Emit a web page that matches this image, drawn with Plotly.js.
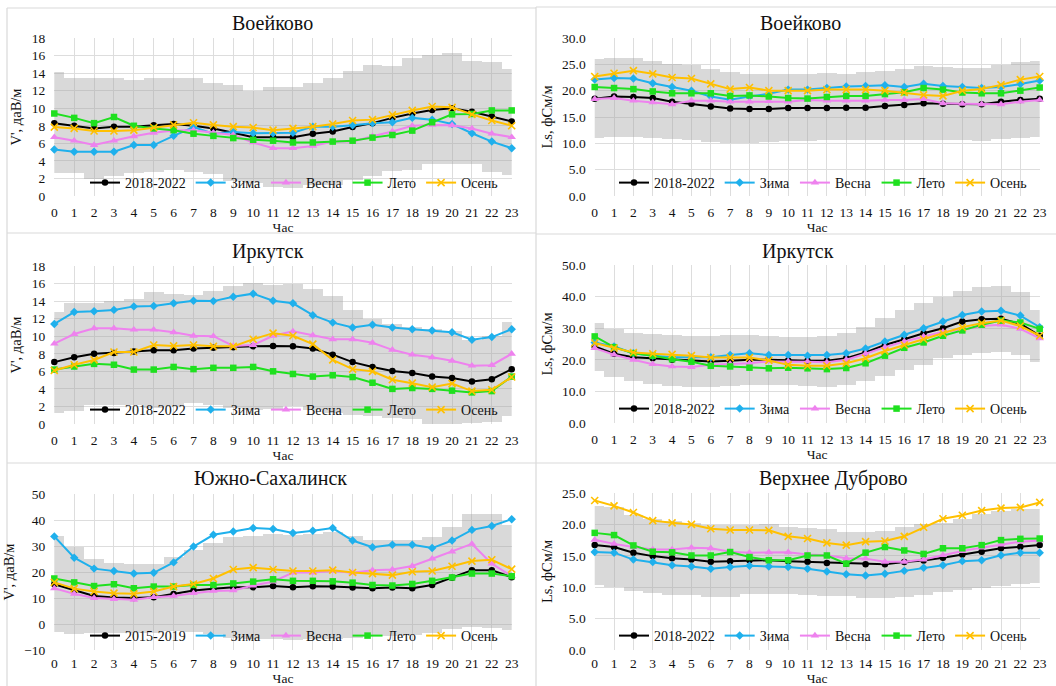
<!DOCTYPE html>
<html>
<head>
<meta charset="utf-8">
<script src="https://cdn.plot.ly/plotly-3.0.1.min.js"></script>
<style>
html,body{margin:0;padding:0;background:#fff;}
#chart{width:1056px;height:686px;}
</style>
</head>
<body>
<div id="chart"></div>
<script>
// ---------- DATA ----------
const hours = [0,1,2,3,4,5,6,7,8,9,10,11,12,13,14,15,16,17,18,19,20,21,22,23];
const namesA = ["2018-2022","Зима","Весна","Лето","Осень"];
const namesB = ["2015-2019","Зима","Весна","Лето","Осень"];
const panelTitles = ["Воейково","Воейково","Иркутск","Иркутск","Южно-Сахалинск","Верхнее Дуброво"];
const yTitleV = "V', даВ/м";
const yTitleL = "Ls, фСм/м";
const xTitle = "Час";

// Воейково, V'
const voV_low  = [2.6,2.6,1.9,2.3,2.6,2.7,3.0,2.7,2.5,1.7,1.5,1.0,0.9,1.3,1.3,1.8,2.3,2.8,3.0,3.6,3.7,3.65,2.7,2.4];
const voV_high = [14.1,13.4,13.5,13.5,13.2,13.4,13.4,13.5,12.9,12.7,12.0,12.4,12.4,12.9,13.4,14.2,14.9,14.8,15.7,16.1,16.3,15.4,15.3,14.5];
const voV_all  = [8.3,8.0,7.7,7.9,7.9,8.05,8.2,8.0,7.7,7.2,6.7,6.7,6.7,7.1,7.35,7.85,8.3,8.9,9.4,9.8,10.0,9.6,9.05,8.5];
const voV_win  = [5.3,5.05,5.05,5.05,5.8,5.8,6.85,7.85,7.1,7.3,7.15,7.15,7.2,7.9,7.9,8.05,8.3,8.4,8.9,8.7,8.2,7.15,6.2,5.45];
const voV_spr  = [6.7,6.3,5.8,6.3,6.8,7.2,7.45,7.5,7.2,6.95,6.1,5.45,5.45,5.7,6.2,6.2,6.8,7.35,8.0,8.1,8.05,7.7,7.1,6.7];
const voV_sum  = [9.4,8.9,8.3,9.0,8.0,7.7,7.5,7.1,6.85,6.6,6.4,6.3,6.1,6.1,6.2,6.3,6.65,6.95,7.45,8.4,9.3,9.35,9.75,9.75];
const voV_aut  = [7.85,7.7,7.4,7.4,7.5,7.8,8.1,8.35,8.1,7.9,7.8,7.5,7.7,7.9,8.2,8.6,8.7,9.25,9.75,10.2,10.1,9.3,8.6,8.0];

// Воейково, Ls
const voL_low  = [11.1,11.2,11.2,11.1,10.8,10.65,10.3,10.1,10.1,10.3,10.4,10.5,10.65,10.6,10.65,10.65,10.65,10.65,10.65,10.65,10.5,10.8,11.1,11.2];
const voL_high = [26.0,26.2,26.2,25.7,25.0,24.8,24.1,23.5,23.2,23.2,23.2,23.2,23.3,23.2,23.5,23.8,24.2,24.6,24.4,24.3,24.3,24.9,25.4,25.7];
const voL_all  = [18.45,18.9,18.8,18.6,17.9,17.5,17.0,16.6,16.5,16.5,16.7,16.7,16.7,16.75,16.75,17.1,17.3,17.6,17.5,17.4,17.4,17.9,18.25,18.45];
const voL_win  = [22.1,22.4,22.3,21.4,20.7,20.0,18.9,18.3,18.9,19.4,20.2,20.2,20.5,20.8,20.9,21.05,20.7,21.3,20.9,20.7,20.5,20.7,21.25,21.95];
const voL_spr  = [18.4,18.6,18.1,17.8,17.4,18.1,18.1,17.9,17.9,18.0,17.9,18.25,18.1,18.1,18.1,18.25,18.25,18.4,17.6,17.5,17.4,17.4,17.9,18.25];
const voL_sum  = [20.7,20.5,20.3,19.85,19.5,19.5,19.5,19.0,19.1,18.9,18.6,18.5,18.8,19.0,19.0,19.35,19.7,20.5,20.2,19.65,19.5,19.5,20.0,20.6];
const voL_aut  = [22.7,23.3,23.8,23.2,22.5,22.3,21.3,20.3,20.6,20.0,20.0,20.0,20.2,20.2,20.2,20.0,19.65,19.2,19.0,20.0,20.3,21.1,22.1,22.7];

// Иркутск, V'
const irV_low  = [1.3,1.5,2.2,2.2,2.2,1.8,2.0,2.4,2.2,1.8,1.6,1.75,2.1,1.6,1.3,1.05,0.9,0.7,0.55,-0.1,0.0,0.1,0.2,0.9];
const irV_high = [12.8,13.8,13.8,14.05,14.25,15.0,14.8,14.75,15.15,15.7,16.1,15.8,15.95,15.35,14.6,13.0,11.95,11.4,11.1,10.85,10.55,9.6,10.0,11.6];
const irV_all  = [7.05,7.6,8.0,8.1,8.25,8.4,8.4,8.6,8.7,8.75,8.85,8.9,8.85,8.6,7.9,7.05,6.5,6.05,5.8,5.4,5.25,4.85,5.1,6.25];
const irV_win  = [11.4,12.75,12.85,13.0,13.4,13.45,13.75,14.05,14.0,14.5,14.85,14.05,13.75,12.4,11.55,11.0,11.3,11.0,10.8,10.65,10.45,9.6,9.9,10.8];
const irV_spr  = [9.15,10.25,10.9,10.9,10.75,10.75,10.45,10.05,10.0,8.9,9.0,10.05,10.55,10.1,9.65,9.65,9.25,8.45,7.9,7.6,7.2,6.65,6.7,8.0];
const irV_sum  = [6.2,6.55,6.85,6.75,6.2,6.2,6.5,6.25,6.4,6.4,6.5,6.0,5.7,5.4,5.55,5.35,4.7,4.0,4.1,4.0,3.8,3.6,3.75,5.4];
const irV_aut  = [6.1,6.75,7.3,8.2,8.2,9.0,8.9,9.0,8.85,8.85,9.65,10.35,10.05,9.1,7.3,6.25,6.0,5.05,4.65,4.2,4.6,3.75,3.9,5.35];

// Иркутск, Ls
const irL_low  = [16.6,14.7,13.2,12.3,11.8,11.4,11.4,11.8,12.1,12.1,12.1,11.8,11.4,12.1,13.2,14.9,16.8,18.4,20.5,21.6,22.3,22.6,21.6,19.2];
const irL_high = [31.6,29.7,28.4,28.2,27.9,27.6,27.6,27.9,27.9,27.4,27.2,27.2,27.4,28.6,30.5,33.2,35.8,38.1,39.8,41.9,42.9,43.2,41.3,35.8];
const irL_all  = [24.2,21.9,20.8,20.5,20.0,19.8,19.5,19.7,20.0,20.0,19.8,19.7,19.7,20.5,22.3,24.7,26.5,28.4,30.0,32.1,32.8,33.0,31.4,27.6];
const irL_win  = [25.5,24.2,22.1,21.3,20.8,20.7,20.8,21.5,22.1,21.5,21.5,21.3,21.5,22.1,23.6,25.8,27.9,30.0,32.1,34.2,35.3,35.5,34.0,30.3];
const irL_spr  = [23.7,21.6,20.0,18.6,17.9,17.7,18.4,18.7,18.9,19.5,19.5,19.4,19.2,20.0,21.9,24.0,25.8,27.4,28.9,29.5,30.7,31.1,29.8,26.8];
const irL_sum  = [27.4,24.0,22.1,21.3,20.2,19.4,18.1,17.9,17.5,17.3,17.5,17.3,17.05,17.4,18.9,21.3,23.8,25.5,27.6,29.3,31.1,32.4,31.8,29.8];
const irL_aut  = [25.3,23.7,22.3,21.9,21.7,21.3,20.7,20.7,20.7,19.8,18.4,18.1,18.1,18.9,20.5,22.8,24.7,26.5,28.4,30.3,31.6,32.4,30.7,27.6];

// Южно-Сахалинск, V'
const ysV_low  = [-2.9,-3.9,-3.3,-3.3,-3.5,-3.5,-2.7,-3.0,-4.0,-5.2,-5.6,-5.8,-6.1,-5.8,-5.8,-5.2,-4.6,-4.6,-4.3,-3.3,-2.0,-1.3,-1.4,-2.3];
const ysV_high = [33.7,29.5,25.1,23.5,23.0,23.2,25.7,28.5,31.1,33.3,33.8,34.8,34.3,34.6,35.2,33.7,32.3,32.3,32.3,33.3,37.5,42.2,42.2,38.0];
const ysV_all  = [15.3,12.9,10.8,10.2,10.0,10.3,11.5,12.9,13.6,14.1,14.1,14.6,14.1,14.5,14.4,14.0,13.75,14.0,13.75,15.0,17.8,20.7,20.7,18.0];
const ysV_win  = [33.7,25.5,21.3,20.4,19.4,19.7,23.7,29.8,34.3,35.6,36.9,36.5,35.0,35.9,36.9,32.1,29.5,30.5,30.5,29.2,32.1,36.2,37.7,40.3];
const ysV_spr  = [13.75,11.6,10.0,9.6,9.3,10.3,10.8,11.85,12.7,12.9,14.8,16.3,19.8,19.8,20.4,19.7,20.7,20.95,22.3,25.1,27.8,30.8,23.2,18.4];
const ysV_sum  = [17.5,16.0,14.6,15.3,13.75,14.4,14.4,15.0,15.0,15.6,16.3,17.2,16.6,16.6,16.4,15.9,15.0,14.8,15.4,16.6,17.9,19.4,19.4,18.4];
const ysV_aut  = [16.0,13.6,12.5,11.85,11.6,12.5,14.4,15.4,17.5,20.95,21.7,20.95,20.4,20.4,20.7,19.8,19.4,18.8,20.1,20.4,22.2,24.2,24.7,21.1];

// Верхнее Дуброво, Ls
const vdL_low  = [10.3,10.0,9.4,9.15,8.8,8.8,8.5,8.5,8.9,8.9,8.9,8.8,8.6,8.6,8.35,8.25,8.45,8.8,9.2,9.5,9.9,10.25,10.5,10.6];
const vdL_high = [23.0,22.7,21.5,20.9,20.5,20.2,19.9,19.9,19.9,20.0,19.6,19.45,19.2,18.8,18.8,18.9,19.55,20.0,20.2,20.9,21.7,22.2,22.5,22.5];
const vdL_all  = [16.7,16.4,15.5,14.95,14.6,14.4,14.05,14.15,14.3,14.3,14.15,14.05,13.85,13.75,13.65,13.65,14.0,14.25,14.7,15.2,15.65,16.2,16.45,16.7];
const vdL_win  = [15.6,15.5,14.4,14.0,13.5,13.3,12.95,13.2,13.4,13.3,13.2,12.95,12.5,12.05,11.85,12.15,12.6,13.1,13.5,14.15,14.3,15.1,15.5,15.5];
const vdL_spr  = [17.55,16.9,16.4,16.0,16.0,16.3,16.2,15.65,15.5,15.55,15.55,15.2,15.1,14.6,14.55,14.05,14.05,14.4,15.1,15.75,16.3,16.8,17.25,17.45];
const vdL_sum  = [18.65,18.3,16.65,15.65,15.55,15.05,15.05,15.6,14.8,14.3,14.3,15.05,15.05,13.75,15.5,16.4,15.85,15.3,16.2,16.2,16.7,17.5,17.7,17.75];
const vdL_aut  = [23.8,22.95,21.9,20.6,20.25,20.0,19.3,19.1,19.1,19.05,18.1,17.75,17.05,16.7,17.25,17.35,18.1,19.55,20.9,21.45,22.2,22.6,22.7,23.5];

// ---------- STYLE / LAYOUT ----------
const W = 1056, H = 686;
const FONT = "Liberation Serif";
const TXT = '#111111';
const seriesStyle = [
  {color:'#000000', symbol:'circle', size:6.5},
  {color:'#1fb0ec', symbol:'diamond', size:6.5},
  {color:'#ee82ee', symbol:'triangle-up', size:7.5},
  {color:'#1fe01f', symbol:'square', size:6.5},
  {color:'#ffc000', symbol:'x-thin-open', size:7}
];
const bandColor = 'rgba(165,165,165,0.42)';

const panels = [
  {low:voV_low, high:voV_high, s:[voV_all,voV_win,voV_spr,voV_sum,voV_aut], names:namesA, yt:yTitleV, range:[0,18], dtick:2, fmt:'',
   box:{l:54.3,r:511.7,t:38,b:196}, tpos:[272,23], lg:[90,183], tls:6},
  {low:voL_low, high:voL_high, s:[voL_all,voL_win,voL_spr,voL_sum,voL_aut], names:namesA, yt:yTitleL, range:[0,30], dtick:5, fmt:'.1f',
   box:{l:594.7,r:1039.7,t:38,b:196}, tpos:[800,23], lg:[619,183], tls:6},
  {low:irV_low, high:irV_high, s:[irV_all,irV_win,irV_spr,irV_sum,irV_aut], names:namesA, yt:yTitleV, range:[0,18], dtick:2, fmt:'',
   box:{l:54.3,r:511.7,t:266,b:424}, tpos:[268,251], lg:[90,410], tls:6},
  {low:irL_low, high:irL_high, s:[irL_all,irL_win,irL_spr,irL_sum,irL_aut], names:namesA, yt:yTitleL, range:[0,50], dtick:10, fmt:'.1f',
   box:{l:594.7,r:1039.7,t:265,b:423}, tpos:[798,251], lg:[619,409], tls:6},
  {low:ysV_low, high:ysV_high, s:[ysV_all,ysV_win,ysV_spr,ysV_sum,ysV_aut], names:namesB, yt:yTitleV, range:[-10,50], dtick:10, fmt:'',
   box:{l:54.3,r:511.7,t:494,b:650}, tpos:[270,478], lg:[90,636], tls:3},
  {low:vdL_low, high:vdL_high, s:[vdL_all,vdL_win,vdL_spr,vdL_sum,vdL_aut], names:namesA, yt:yTitleL, range:[0,25], dtick:5, fmt:'.1f',
   box:{l:594.7,r:1039.7,t:493,b:650}, tpos:[833,478], lg:[619,636], tls:3}
];

const px = v => v / W;
const py = v => 1 - v / H;

const traces = [];
const layout = {
  width: W, height: H,
  margin: {l:0, r:0, t:0, b:0},
  paper_bgcolor: '#ffffff',
  plot_bgcolor: 'rgba(0,0,0,0)',
  font: {family: FONT, color: TXT, size: 13},
  barmode: 'overlay',
  bargap: 0,
  showlegend: true,
  annotations: [],
  shapes: []
};

panels.forEach((p, i) => {
  const sfx = i === 0 ? '' : String(i + 1);
  const xa = 'x' + sfx, ya = 'y' + sfx;
  const lgName = 'legend' + sfx;

  // band (mean ± sd) as floating columns
  traces.push({
    type: 'bar', x: hours,
    y: p.high.map((h, k) => h - p.low[k]),
    base: p.low,
    width: 1,
    marker: {color: bandColor, line: {width: 0}},
    xaxis: xa, yaxis: ya, showlegend: false, hoverinfo: 'skip'
  });

  p.s.forEach((arr, k) => {
    const st = seriesStyle[k];
    const isX = st.symbol === 'x-thin-open';
    traces.push({
      type: 'scatter', mode: 'lines+markers',
      x: hours, y: arr, name: p.names[k],
      line: {color: st.color, width: 2},
      marker: {
        color: st.color, symbol: st.symbol, size: st.size,
        line: {color: st.color, width: isX ? 1.6 : 0}
      },
      cliponaxis: false,
      xaxis: xa, yaxis: ya, legend: lgName
    });
  });

  layout['xaxis' + sfx] = {
    domain: [px(p.box.l), px(p.box.r)],
    anchor: ya,
    range: [0, 23], tick0: 0, dtick: 1,
    showgrid: true, gridcolor: '#dddddd', gridwidth: 1,
    zeroline: false, showline: false, ticks: '',
    ticklabelstandoff: p.tls,
    tickfont: {family: FONT, size: 13.5, color: TXT},
    title: {text: xTitle, font: {family: FONT, size: 13.5, color: TXT}, standoff: 4},
    automargin: false, fixedrange: true
  };
  layout['yaxis' + sfx] = {
    domain: [py(p.box.b), py(p.box.t)],
    anchor: xa,
    range: p.range, tick0: p.range[0], dtick: p.dtick,
    tickformat: p.fmt,
    showgrid: true, gridcolor: '#dddddd', gridwidth: 1,
    zeroline: false, showline: false, ticks: '',
    ticklabelstandoff: 8,
    tickfont: {family: FONT, size: 13.5, color: TXT},
    title: {text: p.yt, font: {family: FONT, size: 14.5, color: TXT}, standoff: 6},
    automargin: false, fixedrange: true
  };
  layout[lgName] = {
    orientation: 'h',
    x: px(p.lg[0] - 5), y: py(p.lg[1]),
    xanchor: 'left', yanchor: 'middle',
    bgcolor: 'rgba(0,0,0,0)', borderwidth: 0,
    font: {family: FONT, size: 14, color: TXT}
  };
  layout.annotations.push({
    text: panelTitles[i], xref: 'paper', yref: 'paper',
    x: px(p.tpos[0]), y: py(p.tpos[1]),
    xanchor: 'center', yanchor: 'middle', showarrow: false,
    font: {family: FONT, size: 20, color: TXT}
  });
});

// panel frames
const frameLines = [
  [7, 8, 7, 686], [536, 7, 536, 686],
  [7, 8, 536, 8], [536, 7, 1056, 7],
  [7, 233, 536, 233], [536, 234, 1056, 234],
  [7, 463, 1056, 463]
];
frameLines.forEach(f => {
  layout.shapes.push({
    type: 'line', xref: 'paper', yref: 'paper',
    x0: px(f[0]), y0: py(f[1]), x1: px(f[2]), y1: py(f[3]),
    line: {color: '#d9d9d9', width: 1.2}
  });
});

Plotly.newPlot('chart', traces, layout, {staticPlot: true, displayModeBar: false});
</script>
</body>
</html>
